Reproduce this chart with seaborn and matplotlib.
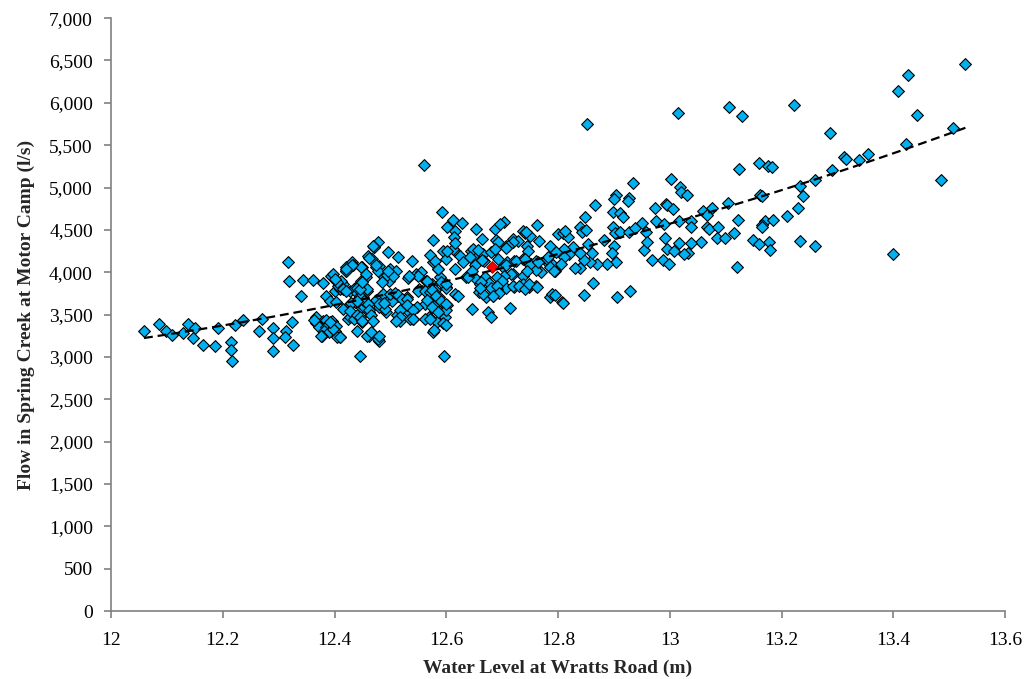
import numpy as np
import pandas as pd
import matplotlib
matplotlib.use('Agg')
import matplotlib.pyplot as plt
import seaborn as sns
from matplotlib.ticker import FuncFormatter, MultipleLocator

# Water level at Wratts Road (m) and flow in Spring Creek (l/s)
water_level = [
    12.059, 12.085, 12.098, 12.110, 12.128, 12.137, 12.150, 12.146, 12.165, 12.186,
    12.192, 12.215, 12.215, 12.216, 12.222, 12.237, 12.265, 12.270, 12.290, 12.290,
    12.290, 12.313, 12.312, 12.325, 12.324, 12.316, 12.319, 12.343, 12.361, 12.340,
    12.379, 12.394, 12.409, 12.420, 12.427, 12.385, 12.391, 12.401, 12.410, 12.403,
    12.415, 12.367, 12.379, 12.385, 12.367, 12.373, 12.385, 12.395, 12.403, 12.382,
    12.390, 12.377, 12.400, 12.409, 12.424,
    12.560, 12.592, 12.612, 12.628, 12.601, 12.616, 12.577, 12.613, 12.654, 12.664,
    12.688, 12.703, 12.697, 12.689, 12.707, 12.719, 12.737, 12.740, 12.749, 12.762,
    12.766, 12.785, 12.800, 12.745, 12.746, 12.594, 12.615, 12.624, 12.600, 12.645,
    12.648, 12.665, 12.668, 12.630, 12.615, 12.680, 12.692, 12.701, 12.709, 12.722,
    12.738, 12.752, 12.760, 12.770, 12.784, 12.795, 12.719, 12.737, 12.636, 12.654,
    12.660, 12.670, 12.676, 12.695, 12.706, 12.722, 12.737, 12.748, 12.760, 12.659,
    12.671, 12.684, 12.690, 12.785, 12.790, 12.646, 12.675, 12.680, 12.714, 12.615,
    12.477, 12.470, 12.459, 12.467, 12.495, 12.513, 12.539, 12.432, 12.420, 12.450,
    12.475, 12.500, 12.489, 12.497, 12.510, 12.531, 12.546, 12.456, 12.447, 12.415,
    12.427, 12.437, 12.443, 12.458, 12.486, 12.497, 12.513, 12.530, 12.552, 12.564,
    12.575, 12.580, 12.588, 12.585, 12.577, 12.570, 12.587, 12.599, 12.561, 12.578,
    12.594, 12.597, 12.583, 12.569, 12.540, 12.518, 12.492, 12.480, 12.461, 12.448,
    12.427, 12.441, 12.450, 12.462, 12.480, 12.404, 12.577, 12.446, 12.596, 12.467,
    12.548, 12.530, 12.474, 12.436,
    12.852, 13.014, 13.106, 13.130, 13.160, 13.124, 13.175, 12.934, 13.002, 13.018,
    13.020, 13.030, 12.866, 12.904, 12.900, 12.927, 12.925, 12.848, 12.898, 12.911,
    12.917, 12.973, 12.993, 12.995, 13.005, 13.105, 13.076, 13.060, 13.066, 13.162,
    13.122, 13.170, 13.165, 13.178, 12.809, 12.817, 12.840, 12.842, 12.850, 12.898,
    12.902, 12.910, 12.927, 12.938, 12.950, 12.957, 12.975, 12.990, 12.992, 13.016,
    13.038, 13.038, 13.066, 13.070, 13.086, 13.084, 13.098, 13.115, 13.148, 13.160,
    13.056, 13.038, 13.017, 12.995, 13.007, 13.033, 13.025, 12.953, 12.960, 12.968,
    12.987, 12.998, 13.120, 12.903, 12.887, 12.870, 12.857, 12.846, 12.840, 12.830,
    12.790, 12.863, 12.794, 12.807, 12.847, 12.906, 12.929, 12.854, 12.860, 12.840,
    12.826, 12.883, 12.900, 12.897, 12.820, 12.810, 12.780,
    13.529, 13.426, 13.409, 13.443, 13.506, 13.422, 13.485, 13.399, 13.222, 13.286,
    13.312, 13.315, 13.338, 13.355, 13.291, 13.260, 13.233, 13.239, 13.230, 13.210,
    13.184, 13.165, 13.182, 13.165, 13.233, 13.260, 13.179,
    12.412, 12.421, 12.433, 12.447, 12.462, 12.471, 12.480, 12.478, 12.457, 12.493,
    12.505, 12.485, 12.483, 12.503, 12.479, 12.490, 12.512, 12.444, 12.452, 12.435,
    12.440, 12.446, 12.458, 12.427, 12.438, 12.449, 12.435, 12.458, 12.466, 12.478,
    12.409, 12.397, 12.391, 12.364, 12.376, 12.406, 12.415, 12.430, 12.427, 12.397,
    12.405,
    12.742, 12.728, 12.719, 12.710, 12.706, 12.692, 12.687, 12.648, 12.656, 12.612,
    12.615, 12.602, 12.643, 12.652, 12.664, 12.639, 12.662, 12.646, 12.707, 12.716,
    12.704, 12.690, 12.700, 12.725, 12.740, 12.750, 12.760, 12.745, 12.765, 12.782,
    12.797, 12.785, 12.793, 12.812, 12.810, 12.805, 12.680, 12.690, 12.695, 12.684,
    12.666, 12.660, 12.720, 12.730, 12.740, 12.748, 12.763, 12.621, 12.600, 12.602,
    12.809, 12.600,
    12.468, 12.432, 12.420, 12.475, 12.495, 12.555, 12.550, 12.534, 12.570, 12.580,
    12.585, 12.565, 12.590, 12.600, 12.400, 12.420, 12.440, 12.445, 12.450, 12.453,
    12.460, 12.462, 12.440, 12.486, 12.488, 12.500, 12.508, 12.513, 12.520, 12.530,
    12.550, 12.562, 12.570, 12.575, 12.582, 12.590, 12.600, 12.565, 12.575, 12.585,
    12.530, 12.540, 12.517, 12.518, 12.440, 12.445, 12.450, 12.465, 12.468, 12.480,
    12.510, 12.535, 12.540, 12.562, 12.570, 12.578, 12.595, 12.600,
]
creek_flow = [
    3310, 3389, 3301, 3262, 3286, 3389, 3341, 3223, 3144, 3132,
    3337, 3172, 3081, 2947, 3380, 3440, 3301, 3443, 3341, 3223,
    3073, 3310, 3239, 3144, 3408, 4117, 3900, 3912, 3912, 3723,
    3869, 3959, 3880, 4019, 4078, 3723, 3664, 3782, 3800, 3644,
    3565, 3467, 3428, 3440, 3400, 3349, 3349, 3430, 3369, 3310,
    3290, 3243, 3310, 3239, 3448,
    5272, 4708, 4622, 4578, 4531, 4492, 4381, 4421, 4511, 4393,
    4511, 4598, 4570, 4381, 4314, 4393, 4492, 4460, 4432, 4562,
    4373, 4314, 4452, 4314, 4255, 4255, 4255, 4196, 4160, 4255,
    4196, 4216, 4137, 4117, 4039, 4235, 4157, 4058, 4117, 4137,
    4157, 4098, 4137, 4000, 4098, 4020, 3980, 3960, 3940, 3920,
    3860, 3940, 3870, 3861, 3810, 3830, 3860, 3830, 3840, 3762,
    3703, 3720, 3800, 3703, 3740, 3565, 3526, 3470, 3577, 3743,
    4354, 4300, 4196, 4160, 4235, 4176, 4129, 4117, 4060, 4058,
    4060, 4040, 3940, 3900, 4020, 3932, 3980, 3940, 3900, 3861,
    3780, 3820, 3770, 3780, 3735, 3690, 3720, 3710, 3802, 3900,
    3861, 3790, 3940, 4040, 4120, 3710, 3710, 3830, 3625, 3605,
    3546, 3470, 3410, 3470, 3448, 3430, 3526, 3585, 3526, 3585,
    3467, 3310, 3410, 3250, 3191, 3230, 3290, 3014, 3014, 3280,
    3590, 3550, 3670, 3650,
    5753, 5879, 5950, 5844, 5292, 5221, 5250, 5053, 5100, 5006,
    4950, 4910, 4797, 4915, 4860, 4880, 4840, 4657, 4708, 4700,
    4650, 4759, 4806, 4790, 4750, 4814, 4759, 4720, 4680, 4915,
    4618, 4610, 4560, 4360, 4460, 4420, 4530, 4470, 4500, 4530,
    4460, 4480, 4480, 4520, 4580, 4470, 4600, 4570, 4400, 4600,
    4610, 4530, 4530, 4510, 4530, 4400, 4410, 4460, 4380, 4330,
    4360, 4340, 4340, 4270, 4250, 4230, 4210, 4260, 4360, 4150,
    4140, 4100, 4060, 4120, 4100, 4100, 4120, 4140, 4050, 4050,
    4100, 3870, 3731, 3650, 3730, 3710, 3780, 4330, 4230, 4230,
    4300, 4380, 4310, 4230, 4220, 4280, 4160,
    6454, 6332, 6139, 5851, 5705, 5516, 5094, 4216, 5969, 5642,
    5359, 5340, 5326, 5397, 5212, 5094, 5023, 4897, 4760, 4669,
    4622, 4540, 5248, 4900, 4365, 4306, 4263,
    3900, 4020, 4090, 4058, 4170, 4294, 4078, 4020, 3980, 3970,
    3950, 3880, 3723, 3664, 3620, 3565, 3500, 3644, 3585, 3800,
    3760, 3723, 3800, 3630, 3487, 3430, 3450, 3250, 3290, 3210,
    3230, 3330, 3410, 3440, 3250, 3840, 3800, 3640, 3546, 3980,
    3880,
    4472, 4373, 4354, 4314, 4290, 4362, 4275, 4275, 4260, 4275,
    4350, 4255, 4180, 4080, 4140, 3940, 3880, 4020, 4080, 3980,
    3960, 3940, 3900, 4137, 4160, 4080, 4030, 4020, 4120, 4180,
    4240, 4060, 4020, 4490, 4180, 4100, 3820, 3840, 3760, 3720,
    3740, 3820, 3840, 3840, 3800, 3860, 3830, 3723, 3810, 3610,
    3636, 3550,
    4310, 4090, 4040, 4080, 4020, 4000, 3950, 3960, 4200, 4130,
    4040, 3900, 3880, 3860, 3920, 3780, 3820, 3800, 3880, 3664,
    3620, 3560, 3664, 3743, 3640, 3740, 3760, 3730, 3680, 3680,
    3780, 3780, 3770, 3790, 3720, 3660, 3620, 3670, 3590, 3530,
    3610, 3560, 3560, 3470, 3490, 3470, 3420, 3490, 3430, 3250,
    3430, 3450, 3450, 3450, 3450, 3320, 3400, 3380,
]
# highlighted observation (red)
highlight_level = [12.682]
highlight_flow = [4058]

x_ticks = [12.0, 12.2, 12.4, 12.6, 12.8, 13.0, 13.2, 13.4, 13.6]

df = pd.DataFrame({'level': water_level, 'flow': creek_flow})

sns.set_style("ticks")
plt.rcParams['font.family'] = ['Liberation Serif', 'DejaVu Serif']

fig = plt.figure(figsize=(10.28, 6.79), dpi=100)
ax = fig.add_axes([0.108, 0.1, 0.8697, 0.8733])

sns.scatterplot(data=df, x='level', y='flow', marker='D', s=36,
                color='#00B0F0', edgecolor='black', linewidth=0.8, ax=ax, zorder=2)
sns.scatterplot(x=highlight_level, y=highlight_flow, marker='D', s=36,
                color='#FF0000', edgecolor='#800000', linewidth=0.6, ax=ax, zorder=3)
# second-order polynomial trend line
sns.regplot(data=df, x='level', y='flow', order=2, scatter=False, ci=None,
            truncate=True, ax=ax,
            line_kws=dict(color='black', lw=1.6, ls=(0, (4, 2.2)), zorder=4))

ax.set_xlim(12, 13.6)
ax.set_ylim(0, 7000)
ax.set_xticks(x_ticks)
ax.yaxis.set_major_locator(MultipleLocator(500))
ax.xaxis.set_major_formatter(FuncFormatter(lambda v, p: f'{v:g}'))
ax.yaxis.set_major_formatter(FuncFormatter(lambda v, p: f'{v:,.0f}'))

for side in ['top', 'right']:
    ax.spines[side].set_visible(False)
for side in ['left', 'bottom']:
    ax.spines[side].set_color('#808080')
    ax.spines[side].set_linewidth(1.2)
ax.tick_params(axis='both', colors='#808080', direction='out', length=5,
               width=1.2, labelsize=14, labelcolor='black', pad=8)
ax.tick_params(axis='x', pad=10)

ax.set_xlabel('Water Level at Wratts Road (m)', fontsize=14, fontweight='bold', labelpad=8)
ax.set_ylabel('Flow in Spring Creek at Motor Camp (l/s)', fontsize=14,
              fontweight='bold', labelpad=10)

fig.savefig('out.png', dpi=100)
